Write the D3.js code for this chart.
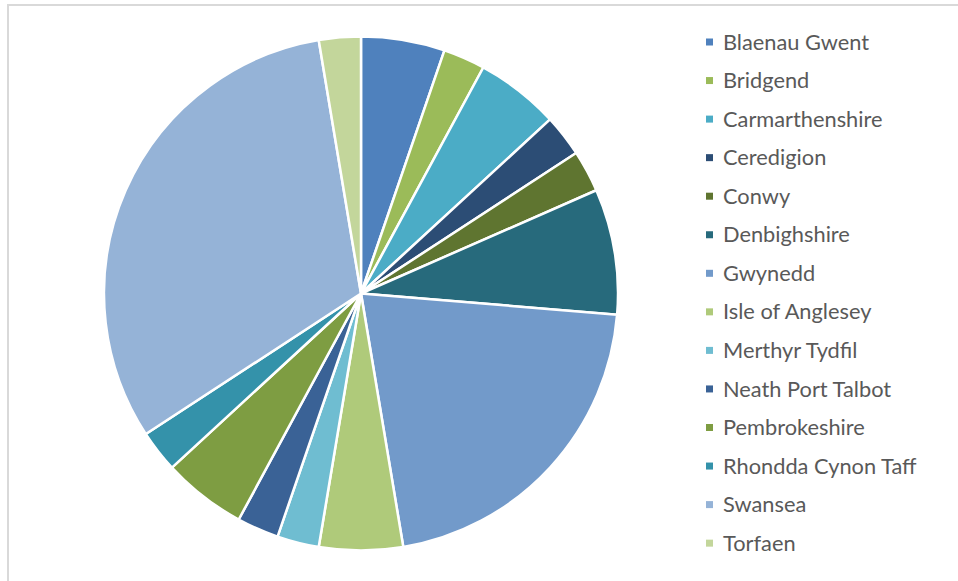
<!DOCTYPE html>
<html>
<head>
<meta charset="utf-8">
<script src="https://cdn.jsdelivr.net/npm/d3@7/dist/d3.min.js"></script>
<style>
  html, body { margin: 0; padding: 0; background: #fff; }
  svg { display: block; }
</style>
</head>
<body>
<svg id="chart" width="958" height="581"></svg>
<script>
// Counts by local authority
const authorities = [
  "Blaenau Gwent", "Bridgend", "Carmarthenshire", "Ceredigion", "Conwy",
  "Denbighshire", "Gwynedd", "Isle of Anglesey", "Merthyr Tydfil",
  "Neath Port Talbot", "Pembrokeshire", "Rhondda Cynon Taff", "Swansea", "Torfaen"
];
const counts = [2, 1, 2, 1, 1, 3, 8, 2, 1, 1, 2, 1, 12, 1];
const sliceColors = [
  "#4F81BD", "#9BBB59", "#4BACC6", "#2C4D75", "#5F7530",
  "#276A7C", "#729ACA", "#AFCA7A", "#6FBDD1", "#3A6296",
  "#7E9D42", "#3492AA", "#95B3D7", "#C3D69B"
];

const data = authorities.map((name, i) => ({ name, value: counts[i] }));

const svg = d3.select("#chart");
const W = 958, H = 581;

// chart area outline
svg.append("rect")
  .attr("x", 8).attr("y", 5)
  .attr("width", W + 10).attr("height", H + 10)
  .attr("fill", "#fff")
  .attr("stroke", "#d9d9d9")
  .attr("stroke-width", 2);

const cx = 361, cy = 293.5, R = 257;

const color = d3.scaleOrdinal().domain(authorities).range(sliceColors);

const pie = d3.pie().value(d => d.value).sort(null);
const arc = d3.arc().innerRadius(0).outerRadius(R);

const g = svg.append("g").attr("transform", `translate(${cx},${cy})`);
g.selectAll("path")
  .data(pie(data))
  .join("path")
  .attr("d", arc)
  .attr("fill", d => color(d.data.name))
  .attr("stroke", "#fff")
  .attr("stroke-width", 2.5)
  .attr("stroke-linejoin", "round");

// legend
const legendX = 706, legendY0 = 42, legendStep = 38.55;
const legend = svg.append("g");
const items = legend.selectAll("g")
  .data(authorities)
  .join("g")
  .attr("transform", (d, i) => `translate(${legendX},${legendY0 + i * legendStep})`);

items.append("rect")
  .attr("x", 0).attr("y", -3.5)
  .attr("width", 7).attr("height", 7)
  .attr("fill", d => color(d));

items.append("text")
  .attr("x", 17).attr("y", 0)
  .attr("dy", "0.35em")
  .attr("fill", "#595959")
  .style("font-family", "Lato, 'Open Sans', sans-serif")
  .style("font-size", "21.8px")
  .text(d => d);
</script>
</body>
</html>
